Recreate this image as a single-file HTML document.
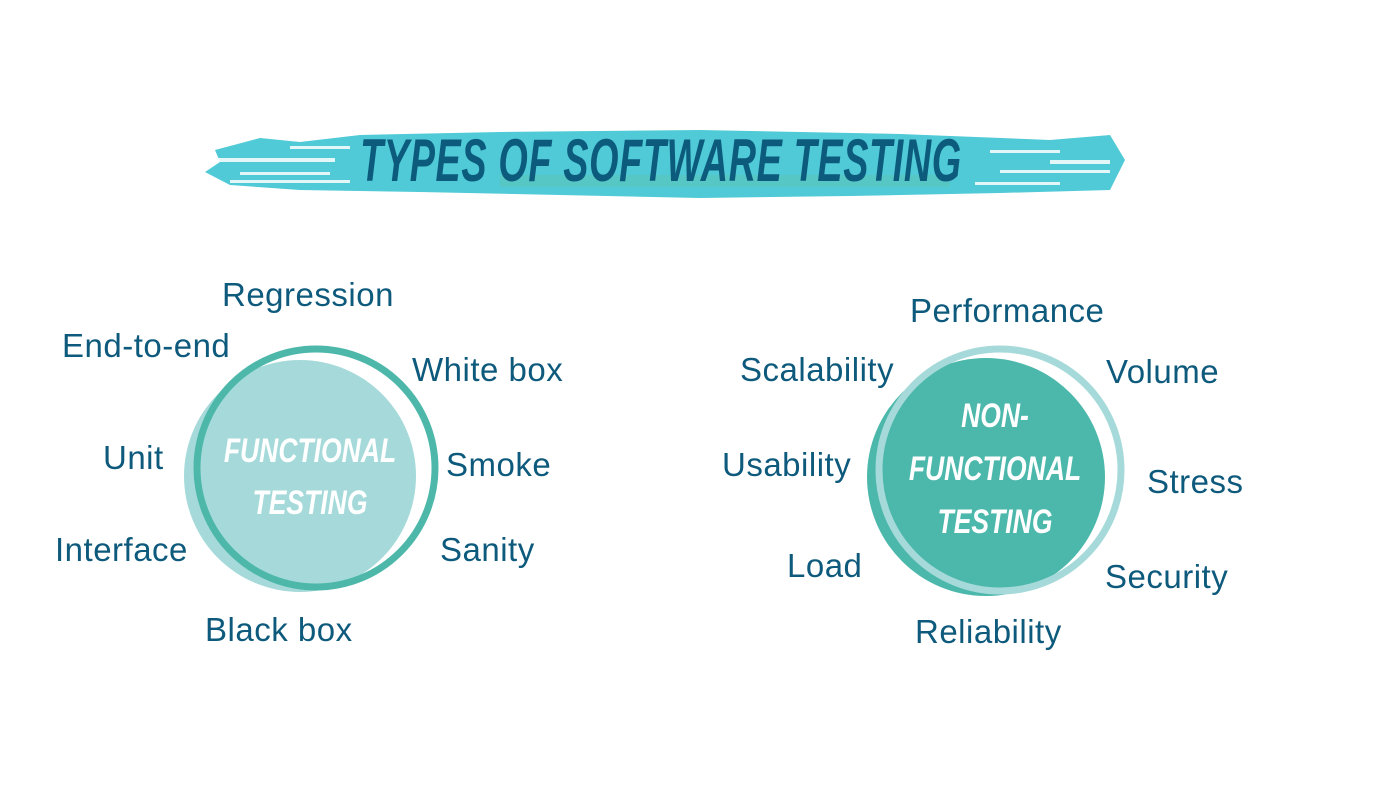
<!DOCTYPE html>
<html><head><meta charset="utf-8"><style>
html,body{margin:0;padding:0;background:#fff;}
#c{position:relative;width:1400px;height:788px;overflow:hidden;background:#fff;font-family:"Liberation Sans",sans-serif;}
.l{position:absolute;color:#0e5a7c;font-size:33px;line-height:40px;white-space:nowrap;letter-spacing:0.5px;}
.t{position:absolute;color:#fff;font-weight:bold;font-style:italic;white-space:nowrap;text-align:center;transform:scaleX(0.78);transform-origin:center;}
</style></head><body><div id="c">
<svg width="1400" height="788" style="position:absolute;left:0;top:0">
  <g fill="#4fcad6">
    <polygon points="215,150 260,138 300,142 360,135 500,132 700,130 900,134 1050,140 1110,135 1125,160 1110,190 1000,193 850,196 700,198 560,195 420,192 300,190 230,185 205,172 220,162"/>
  </g>
  <g fill="#ffffff" opacity="0.85">
    <rect x="215" y="158" width="120" height="4"/><rect x="240" y="172" width="90" height="3"/>
    <rect x="230" y="180" width="120" height="3"/><rect x="290" y="146" width="60" height="3"/>
    <rect x="990" y="150" width="70" height="3"/><rect x="1000" y="170" width="110" height="3"/>
    <rect x="975" y="182" width="85" height="3"/><rect x="1050" y="160" width="60" height="4"/>
  </g>
  <g fill="#5cc4b8" opacity="0.6"><rect x="500" y="175" width="450" height="12"/></g>
  <circle cx="300" cy="476" r="116" fill="#a6dada"/>
  <circle cx="316" cy="468" r="119" fill="none" stroke="#4db8aa" stroke-width="7"/>
  <circle cx="986" cy="477" r="119" fill="#4cb8ab"/>
  <circle cx="1000" cy="470" r="121" fill="none" stroke="#a6dada" stroke-width="7"/>
</svg>
<div style="position:absolute;left:161px;top:128px;width:1000px;text-align:center;white-space:nowrap;font-weight:bold;font-style:italic;font-size:60px;line-height:66px;color:#0c5b7d;transform:scaleX(0.63);transform-origin:center;letter-spacing:1px;">TYPES OF SOFTWARE TESTING</div>
<div class="t" style="left:190px;top:425px;width:240px;font-size:34px;line-height:52px;">FUNCTIONAL<br>TESTING</div>
<div class="t" style="left:870px;top:390px;width:250px;font-size:34px;line-height:53px;">NON-<br>FUNCTIONAL<br>TESTING</div>
<div class="l" style="left:222px;top:275px">Regression</div>
<div class="l" style="left:62px;top:326px">End-to-end</div>
<div class="l" style="left:412px;top:350px">White box</div>
<div class="l" style="left:103px;top:438px">Unit</div>
<div class="l" style="left:446px;top:445px">Smoke</div>
<div class="l" style="left:55px;top:530px">Interface</div>
<div class="l" style="left:440px;top:530px">Sanity</div>
<div class="l" style="left:205px;top:610px">Black box</div>
<div class="l" style="left:910px;top:291px">Performance</div>
<div class="l" style="left:740px;top:350px">Scalability</div>
<div class="l" style="left:1106px;top:352px">Volume</div>
<div class="l" style="left:722px;top:445px">Usability</div>
<div class="l" style="left:1147px;top:462px">Stress</div>
<div class="l" style="left:787px;top:546px">Load</div>
<div class="l" style="left:1105px;top:557px">Security</div>
<div class="l" style="left:915px;top:612px">Reliability</div>
</div></body></html>
